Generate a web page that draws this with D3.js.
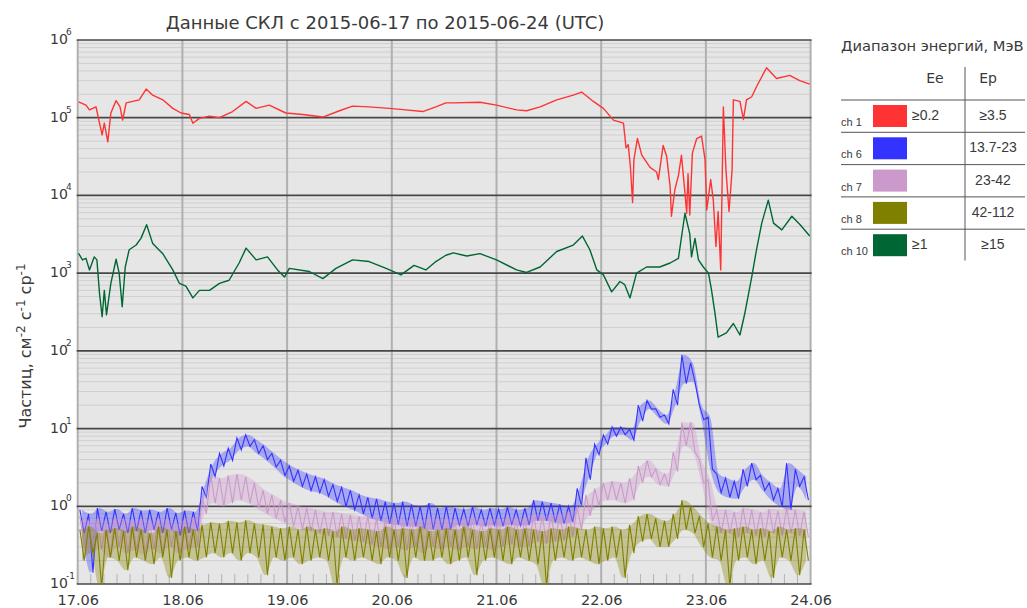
<!DOCTYPE html>
<html>
<head>
<meta charset="utf-8">
<script src="https://cdn.jsdelivr.net/npm/d3@7"></script>
<style>
  body { margin: 0; background: #fff; }
  text { font-family: "DejaVu Sans", sans-serif; fill: #3a3a3a; }
  .arial { font-family: "Liberation Sans", Arial, sans-serif; }
</style>
</head>
<body>
<svg></svg>
<script>
// --- data ---------------------------------------------------------------
// ch 1 (Ee >= 0.2 MeV), hours since 2015-06-17 00:00 UTC
const ch1Hours = [0.2,1.9,2.7,4.2,5.0,5.6,6.1,6.9,7.6,8.8,9.7,10.3,11.1,12.6,14.1,15.7,17.2,19.5,21.8,23.7,
  25.6,26.4,27.9,30.2,32.5,35.5,38.6,40.9,43.9,47.7,51.6,56.2,60.0,63.0,66.8,71.4,75.2,79.1,82.1,84.4,
  86.1,92.2,96.0,100.6,102.9,106.0,109.8,113.6,115.5,118.2,120.5,122.8,125.1,125.7,126.2,126.7,127.2,127.5,128.3,129.3,
  131.2,132.7,133.1,134.2,135.0,135.8,136.1,136.9,137.7,138.4,139.2,139.6,139.9,140.3,140.9,141.9,143.0,143.8,144.2,145.1,
  145.7,146.3,146.8,147.4,148.0,148.6,149.3,150.0,150.3,151.8,152.6,153.3,154.5,155.6,157.9,160.2,163.2,165.5,167.8];
const ch1Values = [1.6e5,1.45e5,1.26e5,1.38e5,8.5e4,6.0e4,8.5e4,4.9e4,1.15e5,1.66e5,1.38e5,9.3e4,1.55e5,1.62e5,1.7e5,2.34e5,1.95e5,1.7e5,1.32e5,1.15e5,
  1.1e5,8.5e4,9.8e4,1.05e5,1.0e5,1.2e5,1.62e5,1.32e5,1.45e5,1.15e5,1.1e5,1.02e5,1.23e5,1.41e5,1.38e5,1.32e5,1.26e5,1.2e5,1.38e5,1.55e5,
  1.55e5,1.58e5,1.45e5,1.26e5,1.23e5,1.38e5,1.7e5,1.95e5,2.14e5,1.62e5,1.32e5,9.3e4,8.5e4,4.1e4,4.5e4,2.3e4,8.1e3,2.9e4,5.4e4,3.3e4,
  2.3e4,2.0e4,1.6e4,4.4e4,3.2e4,1.3e4,5.4e3,1.2e4,1.8e4,3.3e4,1.07e4,5.9e3,1.9e4,5.6e3,3.5e4,5.4e4,5.8e4,2.9e4,6.5e3,1.6e4,
  8.7e3,2.2e3,6.2e3,1.1e3,1.38e5,2.1e4,6.2e3,2.1e4,1.7e5,1.62e5,9.5e4,1.7e5,1.86e5,2.5e5,4.4e5,3.2e5,3.5e5,3.0e5,2.7e5];

// ch 10 (Ee >= 1 MeV)
const ch10Hours = [0.2,1.1,1.9,2.7,3.8,4.4,5.0,5.6,6.1,6.6,7.6,8.8,9.5,10.2,10.9,11.8,13.4,14.5,15.8,17.2,
  19.5,21.8,23.3,24.8,26.4,27.9,30.2,32.5,34.7,37.0,38.6,40.9,43.5,45.8,47.4,48.5,53.1,56.2,59.2,63.0,
  66.8,70.7,74.1,77.1,79.8,82.1,84.4,86.1,89.2,92.2,96.0,100.6,102.9,106.0,109.8,113.6,115.7,117.4,119.0,120.5,
  122.4,124.3,125.4,126.6,128.1,130.4,133.4,135.8,137.7,139.2,140.3,140.7,141.5,142.3,143.4,144.6,145.3,146.1,146.8,148.7,
  150.3,151.8,152.9,154.5,155.6,156.8,158.3,159.5,161.4,163.7,165.6,167.8];
const ch10Values = [1800,1480,1550,1100,1620,1480,550,275,600,290,740,1510,1000,370,1200,2000,2300,2800,4200,2400,
  1780,1100,740,680,480,600,600,740,810,1350,2100,1480,1620,1100,890,1150,1050,850,1150,1480,
  1410,1150,950,1260,1100,1410,1700,1820,1660,1780,1480,1100,1020,1200,1900,2300,3000,2000,1100,950,
  575,780,710,480,1000,1200,1200,1350,1550,5900,3200,1620,2800,1480,1200,1000,600,300,150,170,
  225,160,300,890,2000,4400,8700,4400,3600,5400,4200,3000];

// proton channels: high / low of each 2-hour bin (84 bins)
const ch6Hi = [0.9,0.8,0.95,0.85,0.92,0.8,0.95,0.88,0.9,0.85,0.95,0.82,0.88,0.85,
  1.8,3.5,4.8,5.6,7.6,8.3,7.2,6.0,4.8,3.9,3.3,2.9,2.6,2.4,2.2,1.9,1.75,1.6,1.4,
  1.3,1.25,1.15,1.1,1.15,1.05,1.0,1.1,0.95,1.0,
  0.95,0.92,0.98,0.9,0.95,0.92,0.98,0.9,0.95,
  1.2,1.15,1.1,1.05,1.0,
  1.7,4.2,6.3,8.3,10.5,10.5,9.8,20,23,18,15,32,89,70,20,14,
  2.6,2.3,2.1,3.0,3.6,2.5,2.0,1.7,3.6,3.0,2.4];
const ch6Lo = [0.45,0.14,0.48,0.45,0.5,0.45,0.48,0.45,0.5,0.45,0.5,0.42,0.45,0.48,
  1.3,2.4,3.3,3.9,5.3,5.9,4.8,4.0,3.2,2.5,2.1,1.8,1.6,1.5,1.35,1.15,1.0,0.9,0.8,
  0.7,0.65,0.6,0.58,0.55,0.55,0.52,0.5,0.5,0.5,
  0.57,0.55,0.58,0.55,0.57,0.55,0.58,0.56,0.57,
  0.65,0.65,0.62,0.6,0.62,
  1.0,2.2,4.6,6.3,8.0,8.3,7.1,12.5,17.8,14,11.5,20,38,40,13,3.0,
  1.5,1.3,1.25,1.8,2.2,1.6,1.2,1.0,0.9,1.8,1.2];

const ch7Hi = [0.75,0.65,0.7,0.6,0.72,0.68,0.65,0.7,0.62,0.7,0.66,0.6,0.7,0.72,
  1.3,2.5,2.3,2.5,2.6,2.4,2.0,1.6,1.4,1.2,1.1,1.0,0.95,0.9,0.85,0.85,0.8,0.78,0.75,
  0.75,0.7,0.68,0.72,0.65,0.7,0.66,0.72,0.68,0.7,0.65,0.7,0.72,0.66,0.7,0.68,0.74,0.7,0.72,
  0.8,0.75,0.78,0.8,
  0.85,1.0,1.4,1.7,2.0,2.1,2.0,2.3,3.3,3.9,3.0,2.6,5.0,12,12,4.0,2.2,0.9,
  0.9,0.85,0.95,0.9,0.85,0.92,0.88,0.95,0.9,0.85];
const ch7Lo = [0.3,0.25,0.28,0.22,0.3,0.25,0.27,0.24,0.28,0.25,0.3,0.25,0.28,0.3,
  0.8,1.1,1.0,1.1,1.2,1.1,0.95,0.8,0.7,0.62,0.55,0.5,0.48,0.45,0.42,0.4,0.38,0.36,0.35,
  0.32,0.3,0.28,0.3,0.27,0.3,0.25,0.3,0.28,0.3,0.27,0.3,0.28,0.3,0.27,0.3,0.32,0.3,0.3,
  0.35,0.33,0.35,0.36,
  0.4,0.5,0.75,1.0,1.2,1.2,1.1,1.2,2.0,2.4,1.9,1.8,2.8,6,5,2.0,0.65,0.45,
  0.45,0.4,0.45,0.42,0.4,0.45,0.42,0.45,0.42,0.4];

const ch8Hi = [0.5,0.55,0.45,0.5,0.52,0.48,0.55,0.5,0.45,0.55,0.5,0.48,0.55,0.5,
  0.58,0.62,0.6,0.65,0.62,0.66,0.6,0.58,
  0.55,0.52,0.55,0.5,0.55,0.5,0.52,0.48,0.55,0.5,
  0.52,0.5,0.48,0.55,0.5,0.52,0.5,0.55,0.48,0.5,
  0.52,0.5,0.55,0.5,0.48,0.52,0.5,0.55,0.5,0.52,
  0.5,0.48,0.52,0.5,0.55,0.52,0.5,0.55,0.52,0.55,
  0.5,0.58,
  0.75,0.8,0.7,0.65,0.8,1.2,1.0,0.75,0.6,0.55,
  0.5,0.52,0.55,0.5,0.52,0.48,0.55,0.5,0.52,0.5];
const ch8Lo = [0.2,0.25,0.09,0.22,0.2,0.15,0.22,0.2,0.18,0.22,
  0.12,0.2,0.22,0.2,0.22,0.25,0.22,0.25,0.2,0.25,
  0.22,0.13,0.22,0.2,0.22,0.18,0.2,0.22,0.2,0.09,
  0.22,0.2,0.22,0.2,0.18,0.22,0.2,0.12,0.22,0.2,
  0.2,0.22,0.18,0.2,0.22,0.13,0.2,0.22,0.2,0.18,
  0.22,0.2,0.18,0.09,0.2,0.22,0.2,0.22,0.2,0.18,
  0.2,0.22,0.12,0.25,0.35,0.38,0.3,0.3,0.38,0.5,
  0.45,0.3,0.22,0.2,0.09,0.2,0.22,0.18,0.2,0.12,
  0.22,0.2,0.13,0.2];

// legend table
const legendChannels = ["ch 1", "ch 6", "ch 7", "ch 8", "ch 10"];
const legendEe = ["≥0.2", "", "", "", "≥1"];
const legendEp = ["≥3.5", "13.7-23", "23-42", "42-112", "≥15"];
const legendColors = ["#ff3333", "#3333ff", "#cc99cc", "#808000", "#006633"];

// --- chart --------------------------------------------------------------
const W = 1027, H = 608;
const START = Date.UTC(2015, 5, 17);
const HOUR = 3600e3;
const toDate = h => new Date(START + h * HOUR);

const svg = d3.select("svg").attr("width", W).attr("height", H);

const x = d3.scaleUtc()
  .domain([toDate(0), toDate(168)])
  .range([77.7, 810.6]);
const y = d3.scaleLog()
  .domain([0.1, 1e6])
  .range([584, 40]);

const [x0, x1] = x.range();
const [yb, yt] = y.range();

// plot background
svg.append("rect")
  .attr("x", x0).attr("y", yt)
  .attr("width", x1 - x0).attr("height", yb - yt)
  .attr("fill", "#e6e6e6");

svg.append("clipPath").attr("id", "plot")
  .append("rect")
  .attr("x", x0).attr("y", yt)
  .attr("width", x1 - x0).attr("height", yb - yt);

const decades = d3.range(-1, 7).map(k => Math.pow(10, k));
const minors = [];
d3.range(-1, 6).forEach(k => d3.range(2, 10).forEach(m => minors.push(m * Math.pow(10, k))));

// minor horizontal grid
svg.append("g").selectAll("line")
  .data(minors)
  .enter().append("line")
  .attr("x1", x0).attr("x2", x1)
  .attr("y1", d => y(d)).attr("y2", d => y(d))
  .attr("stroke", "#cfcfcf")
  .attr("stroke-width", 1);

// 3-hour ticks at the bottom
const hourTicks = d3.utcHour.every(3).range(toDate(0), toDate(168))
  .filter(d => d.getUTCHours() !== 0);
svg.append("g").selectAll("line")
  .data(hourTicks)
  .enter().append("line")
  .attr("x1", d => x(d)).attr("x2", d => x(d))
  .attr("y1", yb - 10).attr("y2", yb)
  .attr("stroke", "#b4b4b4")
  .attr("stroke-width", 1);

// day grid lines
const dayTicks = x.ticks(d3.utcDay);
svg.append("g").selectAll("line")
  .data(dayTicks)
  .enter().append("line")
  .attr("x1", d => x(d)).attr("x2", d => x(d))
  .attr("y1", yt).attr("y2", yb)
  .attr("stroke", "#b0b0b0")
  .attr("stroke-width", 2);

// decade lines
svg.append("g").selectAll("line")
  .data(decades)
  .enter().append("line")
  .attr("x1", x0 - 1).attr("x2", x1 + 1)
  .attr("y1", d => y(d)).attr("y2", d => y(d))
  .attr("stroke", "#474747")
  .attr("stroke-width", 1.7);

// --- series ---
const line = d3.line()
  .x(d => x(toDate(d[0])))
  .y(d => y(d[1]));

// noisy channels: faint band between bin low/high, plus a zigzag through them
const band = d3.area()
  .x((d, i) => x(toDate(2 * i + 1)))
  .y0(d => y(d[1]))
  .y1(d => y(d[0]))
  .curve(d3.curveMonotoneX);

function zigzag(hi, lo) {
  const pts = [];
  hi.forEach((v, i) => {
    pts.push([2 * i + 0.5, v]);
    pts.push([2 * i + 1.5, lo[i]]);
  });
  return pts;
}

const plot = svg.append("g").attr("clip-path", "url(#plot)");

const noisy = [
  { hi: ch6Hi, lo: ch6Lo, color: legendColors[1] },
  { hi: ch7Hi, lo: ch7Lo, color: legendColors[2] },
  { hi: ch8Hi, lo: ch8Lo, color: legendColors[3] }
];

noisy.forEach(s => {
  plot.append("path")
    .attr("d", band(d3.zip(s.hi, s.lo)))
    .attr("fill", s.color)
    .attr("opacity", 0.35);
  plot.append("path")
    .attr("d", line(zigzag(s.hi, s.lo)))
    .attr("fill", "none")
    .attr("stroke", s.color)
    .attr("stroke-width", 1.1);
});

const smooth = [
  { pts: d3.zip(ch10Hours, ch10Values), color: legendColors[4] },
  { pts: d3.zip(ch1Hours, ch1Values), color: legendColors[0] }
];
plot.selectAll(".series")
  .data(smooth)
  .enter().append("path")
  .attr("class", "series")
  .attr("d", d => line(d.pts))
  .attr("fill", "none")
  .attr("stroke", d => d.color)
  .attr("stroke-width", 1.4)
  .attr("stroke-linejoin", "round");

// --- axes labels ---
const xAxis = svg.append("g")
  .attr("transform", `translate(0,${yb})`)
  .call(d3.axisBottom(x).tickValues(dayTicks).tickSize(0)
    .tickFormat(d3.utcFormat("%d.%m")));
xAxis.select(".domain").remove();
xAxis.selectAll("text")
  .attr("y", 20.5)
  .attr("dy", null)
  .attr("font-size", 14.5)
  .attr("font-family", "DejaVu Sans, sans-serif")
  .attr("fill", "#3a3a3a");

const yLabels = svg.append("g").selectAll("text")
  .data(decades)
  .enter().append("text")
  .attr("x", 50)
  .attr("y", d => y(d) + 4)
  .attr("font-size", 14);
yLabels.append("tspan").text("10");
yLabels.append("tspan")
  .attr("x", 66)
  .attr("dy", -9)
  .attr("font-size", 9)
  .text(d => Math.round(Math.log10(d)));

// y title
const yTitle = svg.append("text")
  .attr("transform", "translate(31,346) rotate(-90)")
  .attr("text-anchor", "middle")
  .attr("font-size", 16);
yTitle.append("tspan").text("Частиц, см");
yTitle.append("tspan").attr("font-size", 12).attr("dy", -6).text("-2");
yTitle.append("tspan").attr("dy", 6).text(" с");
yTitle.append("tspan").attr("font-size", 12).attr("dy", -6).text("-1");
yTitle.append("tspan").attr("dy", 6).text(" ср");
yTitle.append("tspan").attr("font-size", 12).attr("dy", -6).text("-1");

// title
svg.append("text")
  .attr("x", 385)
  .attr("y", 29)
  .attr("text-anchor", "middle")
  .attr("font-size", 18)
  .attr("fill", "#404040")
  .text("Данные СКЛ с 2015-06-17 по 2015-06-24 (UTC)");

// --- legend ---
const lg = svg.append("g");
lg.append("text")
  .attr("x", 841).attr("y", 51)
  .attr("font-size", 14.7)
  .text("Диапазон энергий, МэВ");
lg.append("text").attr("x", 935).attr("y", 83).attr("text-anchor", "middle")
  .attr("font-size", 14).text("Ee");
lg.append("text").attr("x", 988).attr("y", 83).attr("text-anchor", "middle")
  .attr("font-size", 14).text("Ep");

const rowTop = 100, rowH = 32.3;
lg.append("line")
  .attr("x1", 965).attr("x2", 965)
  .attr("y1", 67).attr("y2", rowTop + rowH * legendChannels.length - 1)
  .attr("stroke", "#555").attr("stroke-width", 1);

const rows = lg.selectAll(".row")
  .data(legendChannels)
  .enter().append("g")
  .attr("class", "row")
  .attr("transform", (d, i) => `translate(0,${rowTop + i * rowH})`);

rows.append("line")
  .attr("x1", 841).attr("x2", 1025)
  .attr("y1", 0).attr("y2", 0)
  .attr("stroke", "#555").attr("stroke-width", 1);
rows.append("text")
  .attr("class", "arial")
  .attr("x", 841).attr("y", 26)
  .attr("font-size", 11)
  .text(d => d);
rows.append("rect")
  .attr("x", 873).attr("y", 5)
  .attr("width", 34).attr("height", 22)
  .attr("fill", (d, i) => legendColors[i]);
rows.append("text")
  .attr("class", "arial")
  .attr("x", 912).attr("y", 20)
  .attr("font-size", 14)
  .text((d, i) => legendEe[i]);
rows.append("text")
  .attr("class", "arial")
  .attr("x", 993).attr("y", 20)
  .attr("text-anchor", "middle")
  .attr("font-size", 14)
  .text((d, i) => legendEp[i]);
</script>
</body>
</html>
